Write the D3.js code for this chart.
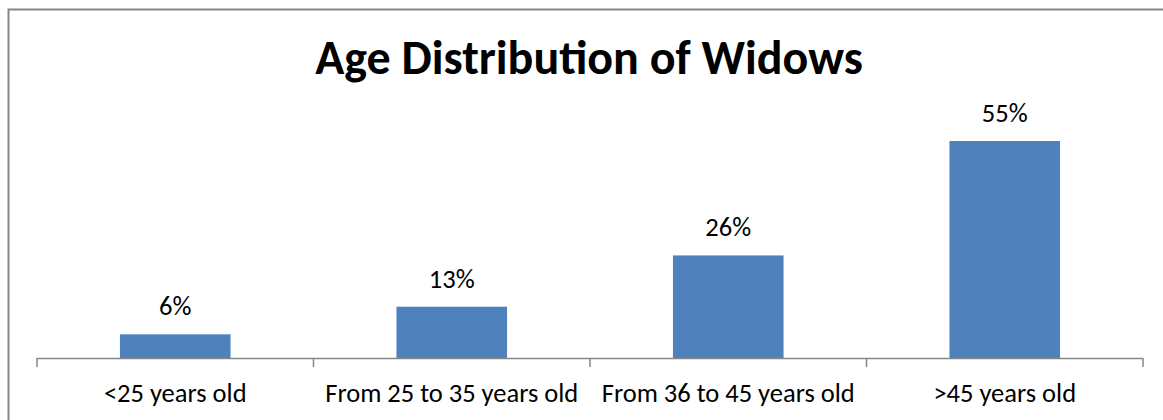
<!DOCTYPE html>
<html>
<head>
<meta charset="utf-8">
<script src="https://cdn.jsdelivr.net/npm/d3@7"></script>
<style>
  html, body { margin: 0; padding: 0; background: #fff; }
  svg { display: block; }
  text { font-family: Carlito, Lato, "Open Sans", sans-serif; }
</style>
</head>
<body>
<svg id="chart" width="1163" height="420"></svg>
<script>
const title = "Age Distribution of Widows";
const categories = ["<25 years old", "From 25 to 35 years old", "From 36 to 45 years old", ">45 years old"];
const values = [6, 13, 26, 55];
const labels = ["6%", "13%", "26%", "55%"];
const yMax = 60;

const W = 1163, H = 420;
const svg = d3.select("#chart");

// outer chart border
svg.append("rect")
  .attr("x", 8.5).attr("y", 9.5)
  .attr("width", W + 20).attr("height", H + 20)
  .attr("fill", "#fff")
  .attr("stroke", "#868686")
  .attr("stroke-width", 2);

const plot = { left: 37, right: 1143, top: 121.3, bottom: 358 };

const x = d3.scaleBand()
  .domain(categories)
  .range([plot.left, plot.right])
  .padding(0);

const y = d3.scaleLinear()
  .domain([0, yMax])
  .range([plot.bottom, plot.top]);

const barW = x.bandwidth() * 0.4;

// bars
svg.append("g").selectAll("rect")
  .data(values)
  .join("rect")
  .attr("x", (d, i) => x(categories[i]) + (x.bandwidth() - barW) / 2)
  .attr("y", d => y(d))
  .attr("width", barW)
  .attr("height", d => y(0) - y(d))
  .attr("fill", "#4F81BD");

// x axis
const xAxis = svg.append("g")
  .attr("transform", `translate(0,${plot.bottom})`)
  .call(d3.axisBottom(x).tickSize(0).tickPadding(0).tickFormat(""));
xAxis.select(".domain").remove();
xAxis.append("line")
  .attr("x1", plot.left).attr("x2", plot.right)
  .attr("y1", 0.5).attr("y2", 0.5)
  .attr("stroke", "#868686").attr("stroke-width", 1.5);
// category boundary ticks
const bounds = categories.map(c => x(c)).concat([plot.right]);
xAxis.selectAll("line.bt")
  .data(bounds)
  .join("line")
  .attr("class", "bt")
  .attr("x1", d => d).attr("x2", d => d)
  .attr("y1", 0).attr("y2", 9)
  .attr("stroke", "#868686").attr("stroke-width", 1.5);
// category labels
xAxis.selectAll("text.cl")
  .data(categories)
  .join("text")
  .attr("class", "cl")
  .attr("x", d => x(d) + x.bandwidth() / 2)
  .attr("y", 44)
  .attr("text-anchor", "middle")
  .attr("font-size", 26.5)
  .attr("fill", "#000")
  .text(d => d);

// data labels
svg.append("g").selectAll("text")
  .data(values)
  .join("text")
  .attr("x", (d, i) => x(categories[i]) + x.bandwidth() / 2)
  .attr("y", d => y(d) - 19)
  .attr("text-anchor", "middle")
  .attr("font-size", 26.5)
  .attr("fill", "#000")
  .text((d, i) => labels[i]);

// title
svg.append("text")
  .attr("x", 589)
  .attr("y", 74)
  .attr("text-anchor", "middle")
  .attr("font-size", 48)
  .attr("font-weight", "bold")
  .attr("fill", "#000")
  .text(title);
</script>
</body>
</html>
